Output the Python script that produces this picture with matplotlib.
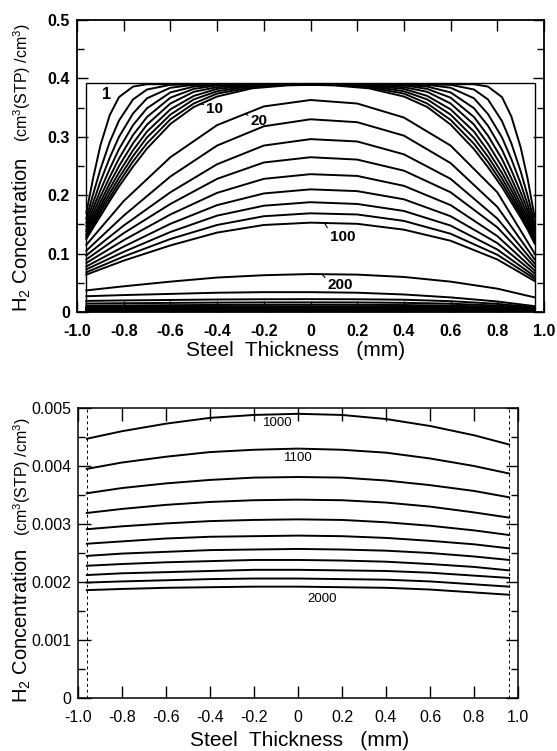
import numpy as np
import matplotlib.pyplot as plt

plt.rcParams.update({
    'font.family': 'Liberation Sans',
    'mathtext.fontset': 'custom',
    'mathtext.rm': 'Liberation Sans',
    'mathtext.it': 'Liberation Sans:italic',
    'mathtext.bf': 'Liberation Sans:bold',
})

# steel plate half thickness (mm) and initial H2 content
half_thickness = 0.96
conc_initial = 0.392

# ---- early profiles (t = 1..10) ----
x_early = [-0.96, -0.93, -0.90, -0.86, -0.82, -0.76, -0.70, -0.60, -0.50, -0.40, -0.25, -0.10, 0.0,
           0.10, 0.25, 0.40, 0.50, 0.60, 0.70, 0.76, 0.82, 0.86, 0.90, 0.93, 0.96]
times_early = [1, 2, 3, 4, 5, 6, 7, 8, 9, 10]
conc_early = [
    [0.170, 0.231, 0.285, 0.337, 0.368, 0.386, 0.390, 0.390, 0.390, 0.390, 0.390, 0.390, 0.390,
     0.390, 0.390, 0.390, 0.390, 0.390, 0.390, 0.386, 0.368, 0.335, 0.282, 0.228, 0.162],
    [0.160, 0.203, 0.244, 0.291, 0.328, 0.364, 0.381, 0.389, 0.390, 0.390, 0.390, 0.390, 0.390,
     0.390, 0.390, 0.390, 0.390, 0.389, 0.381, 0.364, 0.327, 0.289, 0.241, 0.199, 0.152],
    [0.153, 0.188, 0.223, 0.264, 0.300, 0.340, 0.366, 0.384, 0.389, 0.390, 0.390, 0.390, 0.390,
     0.390, 0.390, 0.390, 0.389, 0.384, 0.366, 0.339, 0.299, 0.262, 0.220, 0.184, 0.145],
    [0.147, 0.178, 0.208, 0.245, 0.279, 0.320, 0.349, 0.376, 0.386, 0.389, 0.390, 0.390, 0.390,
     0.390, 0.390, 0.389, 0.386, 0.376, 0.349, 0.319, 0.278, 0.243, 0.205, 0.174, 0.139],
    [0.142, 0.170, 0.197, 0.231, 0.263, 0.303, 0.334, 0.367, 0.382, 0.388, 0.390, 0.390, 0.390,
     0.390, 0.390, 0.388, 0.382, 0.367, 0.334, 0.302, 0.262, 0.229, 0.194, 0.166, 0.134],
    [0.138, 0.163, 0.188, 0.220, 0.250, 0.289, 0.321, 0.357, 0.377, 0.385, 0.389, 0.390, 0.390,
     0.390, 0.389, 0.385, 0.377, 0.357, 0.321, 0.288, 0.249, 0.218, 0.185, 0.159, 0.130],
    [0.134, 0.158, 0.181, 0.211, 0.239, 0.277, 0.309, 0.347, 0.370, 0.382, 0.388, 0.390, 0.390,
     0.390, 0.388, 0.382, 0.370, 0.347, 0.309, 0.276, 0.238, 0.209, 0.178, 0.154, 0.126],
    [0.131, 0.153, 0.175, 0.203, 0.230, 0.267, 0.299, 0.338, 0.364, 0.378, 0.387, 0.389, 0.390,
     0.389, 0.387, 0.378, 0.364, 0.338, 0.298, 0.266, 0.229, 0.201, 0.172, 0.149, 0.123],
    [0.128, 0.149, 0.170, 0.196, 0.222, 0.258, 0.289, 0.330, 0.357, 0.374, 0.385, 0.389, 0.389,
     0.389, 0.385, 0.374, 0.357, 0.329, 0.288, 0.257, 0.221, 0.194, 0.167, 0.145, 0.120],
    [0.125, 0.145, 0.164, 0.190, 0.215, 0.249, 0.280, 0.322, 0.351, 0.369, 0.383, 0.388, 0.389,
     0.388, 0.383, 0.369, 0.351, 0.321, 0.279, 0.248, 0.214, 0.188, 0.162, 0.141, 0.117],
]

# ---- later profiles on a coarser grid ----
x_late = [-0.96, -0.8, -0.6, -0.4, -0.2, 0.0, 0.2, 0.4, 0.6, 0.8, 0.96]
times_mid = [20, 30, 40, 50, 60, 70, 80, 90, 100]
conc_mid = [
    [0.115, 0.190, 0.265, 0.320, 0.352, 0.363, 0.357, 0.333, 0.285, 0.205, 0.100],
    [0.105, 0.165, 0.232, 0.285, 0.318, 0.330, 0.325, 0.302, 0.255, 0.180, 0.090],
    [0.097, 0.148, 0.205, 0.253, 0.285, 0.296, 0.292, 0.270, 0.228, 0.160, 0.083],
    [0.090, 0.135, 0.185, 0.228, 0.256, 0.265, 0.261, 0.242, 0.205, 0.145, 0.077],
    [0.084, 0.123, 0.167, 0.204, 0.228, 0.236, 0.233, 0.216, 0.183, 0.130, 0.071],
    [0.078, 0.112, 0.151, 0.183, 0.203, 0.210, 0.207, 0.193, 0.164, 0.118, 0.066],
    [0.073, 0.103, 0.137, 0.165, 0.182, 0.188, 0.185, 0.173, 0.148, 0.107, 0.061],
    [0.068, 0.095, 0.125, 0.149, 0.164, 0.169, 0.167, 0.156, 0.134, 0.098, 0.057],
    [0.064, 0.088, 0.114, 0.136, 0.149, 0.153, 0.151, 0.141, 0.122, 0.090, 0.053],
]
times_late = [200, 300, 400, 500, 600, 700, 800, 900]
conc_late = [
    [0.037, 0.044, 0.052, 0.059, 0.063, 0.065, 0.064, 0.060, 0.052, 0.040, 0.025],
    [0.027, 0.029, 0.031, 0.033, 0.034, 0.034, 0.033, 0.030, 0.025, 0.018, 0.010],
    [0.0190, 0.0198, 0.0206, 0.0214, 0.0218, 0.0220, 0.0218, 0.0210, 0.0185, 0.0140, 0.0080],
    [0.0145, 0.0150, 0.0156, 0.0161, 0.0164, 0.0165, 0.0164, 0.0157, 0.0142, 0.0110, 0.0068],
    [0.0108, 0.0112, 0.0117, 0.0121, 0.0123, 0.0124, 0.0123, 0.0119, 0.0109, 0.0088, 0.0062],
    [0.0085, 0.0088, 0.0091, 0.0094, 0.0095, 0.0096, 0.0095, 0.0092, 0.0085, 0.0073, 0.0058],
    [0.0068, 0.0070, 0.0072, 0.0074, 0.0075, 0.0076, 0.0075, 0.0073, 0.0068, 0.0062, 0.0054],
    [0.0056, 0.0057, 0.0059, 0.0060, 0.0061, 0.0061, 0.0060, 0.0059, 0.0056, 0.0052, 0.0048],
]
times_long = [1000, 1100, 1200, 1300, 1400, 1500, 1600, 1700, 1800, 1900, 2000]
conc_long = [
    [0.00447, 0.00460, 0.00473, 0.00483, 0.00488, 0.00490, 0.00488, 0.00481, 0.00469, 0.00453, 0.00437],
    [0.00395, 0.00406, 0.00416, 0.00424, 0.00428, 0.00430, 0.00428, 0.00423, 0.00413, 0.00400, 0.00387],
    [0.00353, 0.00362, 0.00370, 0.00376, 0.00380, 0.00381, 0.00380, 0.00375, 0.00367, 0.00357, 0.00346],
    [0.00319, 0.00326, 0.00333, 0.00338, 0.00341, 0.00342, 0.00341, 0.00337, 0.00330, 0.00320, 0.00311],
    [0.00291, 0.00296, 0.00301, 0.00305, 0.00307, 0.00308, 0.00307, 0.00303, 0.00297, 0.00289, 0.00281],
    [0.00266, 0.00270, 0.00275, 0.00278, 0.00279, 0.00280, 0.00279, 0.00276, 0.00271, 0.00265, 0.00258],
    [0.00245, 0.00249, 0.00252, 0.00255, 0.00256, 0.00257, 0.00256, 0.00254, 0.00250, 0.00244, 0.00238],
    [0.00228, 0.00231, 0.00234, 0.00236, 0.00238, 0.00238, 0.00237, 0.00235, 0.00231, 0.00226, 0.00220],
    [0.00212, 0.00215, 0.00217, 0.00219, 0.00221, 0.00221, 0.00220, 0.00219, 0.00216, 0.00211, 0.00207],
    [0.00199, 0.00201, 0.00203, 0.00205, 0.00206, 0.00206, 0.00205, 0.00204, 0.00201, 0.00196, 0.00192],
    [0.00186, 0.00188, 0.00190, 0.00191, 0.00192, 0.00192, 0.00191, 0.00190, 0.00187, 0.00182, 0.00178],
]

x_ticks = [-1.0, -0.8, -0.6, -0.4, -0.2, 0.0, 0.2, 0.4, 0.6, 0.8, 1.0]
x_ticklabels = ["-1.0", "-0.8", "-0.6", "-0.4", "-0.2", "0", "0.2", "0.4", "0.6", "0.8", "1.0"]
y_ticks_top = [0.0, 0.1, 0.2, 0.3, 0.4, 0.5]
y_ticklabels_top = ["0", "0.1", "0.2", "0.3", "0.4", "0.5"]
y_ticks_bot = [0.0, 0.001, 0.002, 0.003, 0.004, 0.005]
y_ticklabels_bot = ["0", "0.001", "0.002", "0.003", "0.004", "0.005"]

LW = 1.4
W, H = 557, 751
fig = plt.figure(figsize=(W / 100, H / 100), dpi=100)
ax1 = fig.add_axes([77 / W, 1 - 312 / H, (544 - 77) / W, (312 - 20) / H])
ax2 = fig.add_axes([78 / W, 1 - 698 / H, (518 - 78) / W, (698 - 408) / H])


def curve_at(xs, ys, x):
    return float(np.interp(x, xs, ys))


# ===== top panel: full range =====
h = half_thickness
ax1.plot([-h, -h, h, h], [0, conc_initial, conc_initial, 0], color="k", lw=1.0)
for group_x, group in ((x_early, conc_early), (x_late, conc_mid),
                       (x_late, conc_late), (x_late, conc_long)):
    for prof in group:
        ax1.plot(group_x, prof, color="k", lw=LW)

ax1.text(-0.875, 0.372, "1", fontsize=11.5, fontweight="bold", ha="center", va="center")


def tag(ax, text, xs, ys, x, dx, dy):
    ax.annotate(text, xy=(x, curve_at(xs, ys, x)), xytext=(dx, dy), textcoords="offset points",
                ha="left", va="center", fontsize=11, fontweight="bold",
                arrowprops=dict(arrowstyle="-", lw=0.8, shrinkA=0, shrinkB=0, relpos=(0, 0.8)))


tag(ax1, "10", x_early, conc_early[9], -0.47, 4, -4)
tag(ax1, "20", x_late, conc_mid[0], -0.28, 4, -5)
tag(ax1, "100", x_late, conc_mid[8], 0.06, 4, -10)
tag(ax1, "200", x_late, conc_late[0], 0.05, 4, -8)

ax1.set_xlim(-1.0, 1.0)
ax1.set_ylim(0, 0.5)
ax1.set_xticks(x_ticks)
ax1.set_xticklabels(x_ticklabels)
ax1.set_yticks(y_ticks_top)
ax1.set_yticklabels(y_ticklabels_top)
ax1.set_yticks([0.05, 0.15, 0.25, 0.35, 0.45], minor=True)
ax1.tick_params(which="both", direction="in", top=True, right=True, width=1.0,
                labelsize=11.5)
ax1.tick_params(axis="x", pad=9)
ax1.tick_params(axis="y", pad=5)
ax1.tick_params(which="major", length=8)
ax1.tick_params(which="minor", length=5)
for lab in ax1.get_xticklabels() + ax1.get_yticklabels():
    lab.set_fontweight("bold")
for s in ax1.spines.values():
    s.set_linewidth(1.3)

# ===== bottom panel: long-time profiles =====
for prof in conc_long:
    ax2.plot(x_late, prof, color="k", lw=LW)
for xe in (-h, h):
    ax2.axvline(xe, color="k", lw=0.7, ls=(0, (3, 3)))

ax2.text(-0.09, 0.00474, "1000", fontsize=9.5, ha="center", va="center")
ax2.text(0.0, 0.00414, "1100", fontsize=9.5, ha="center", va="center")
ax2.text(0.11, 0.00171, "2000", fontsize=9.5, ha="center", va="center")

ax2.set_xlim(-1.0, 1.0)
ax2.set_ylim(0, 0.005)
ax2.set_xticks(x_ticks)
ax2.set_xticklabels(x_ticklabels)
ax2.set_yticks(y_ticks_bot)
ax2.set_yticklabels(y_ticklabels_bot)
ax2.set_yticks([0.0005, 0.0015, 0.0025, 0.0035, 0.0045], minor=True)
ax2.tick_params(which="both", direction="in", top=True, right=True, width=1.0,
                labelsize=11.5)
ax2.tick_params(axis="x", pad=9)
ax2.tick_params(axis="y", pad=5)
ax2.tick_params(which="major", length=9)
ax2.tick_params(which="minor", length=5)
for s in ax2.spines.values():
    s.set_linewidth(1.1)

# axis titles
for yb_h2, yb_unit in ((312, 142), (703, 536)):
    fig.text(22 / W, 1 - yb_h2 / H, "H$_2$ Concentration", rotation=90,
             ha="center", va="bottom", fontsize=14.5)
    fig.text(22 / W, 1 - yb_unit / H, "(cm$^3$(STP) /cm$^3$)", rotation=90,
             ha="center", va="bottom", fontsize=11.5)
fig.text(296 / W, 1 - 351 / H, "Steel  Thickness   (mm)", ha="center", va="center", fontsize=15)
fig.text(300 / W, 1 - 741 / H, "Steel  Thickness   (mm)", ha="center", va="center", fontsize=15)

fig.savefig("out.png", dpi=100)
